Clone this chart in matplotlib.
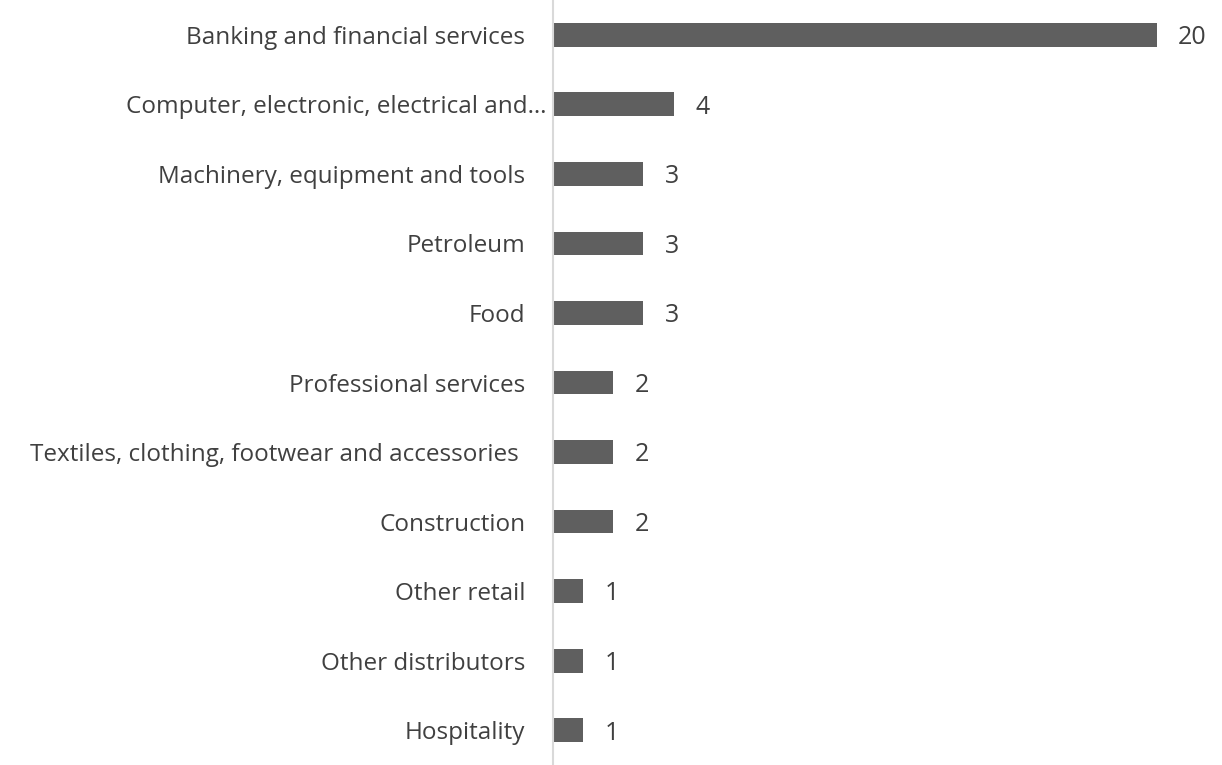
import matplotlib.pyplot as plt
import matplotlib.transforms as mtransforms

sectors = ["Banking and financial services",
           "Computer, electronic, electrical and\u2026",
           "Machinery, equipment and tools",
           "Petroleum",
           "Food",
           "Professional services",
           "Textiles, clothing, footwear and accessories ",
           "Construction",
           "Other retail",
           "Other distributors",
           "Hospitality"]
counts = [20, 4, 3, 3, 3, 2, 2, 2, 1, 1, 1]

bar_col = "#5f5f5f"
txt_col = "#404040"

plt.rcParams['font.family'] = ['Open Sans', 'DejaVu Sans']

fig = plt.figure(figsize=(12.22, 7.65), dpi=100)
ax = fig.add_axes([0.4525, 0.0, 0.531, 1.0])

y = list(range(len(sectors)))
ax.barh(y, counts, height=0.34, color=bar_col)

for yi, v in zip(y, counts):
    ax.annotate(str(v), (v, yi), xytext=(15.5, -2), textcoords="offset points",
                va="center", ha="left", fontsize=18, color=txt_col)

ax.set_xlim(0, 21.5)
ax.set_ylim(len(sectors) - 0.5, -0.5)
ax.set_yticks(y)
ax.set_yticklabels(sectors, fontsize=17.5, color=txt_col)
ax.tick_params(axis="y", length=0, pad=20)
ax.set_xticks([])

# the truncated label sits closer to the axis
lab = ax.get_yticklabels()[1]
lab.set_transform(lab.get_transform() +
                  mtransforms.ScaledTranslation(0.21, 0, fig.dpi_scale_trans))

for s in ["top", "right", "bottom"]:
    ax.spines[s].set_visible(False)
ax.spines["left"].set_color("#d9d9d9")
ax.spines["left"].set_linewidth(1.5)

fig.savefig("out.png", dpi=100)
